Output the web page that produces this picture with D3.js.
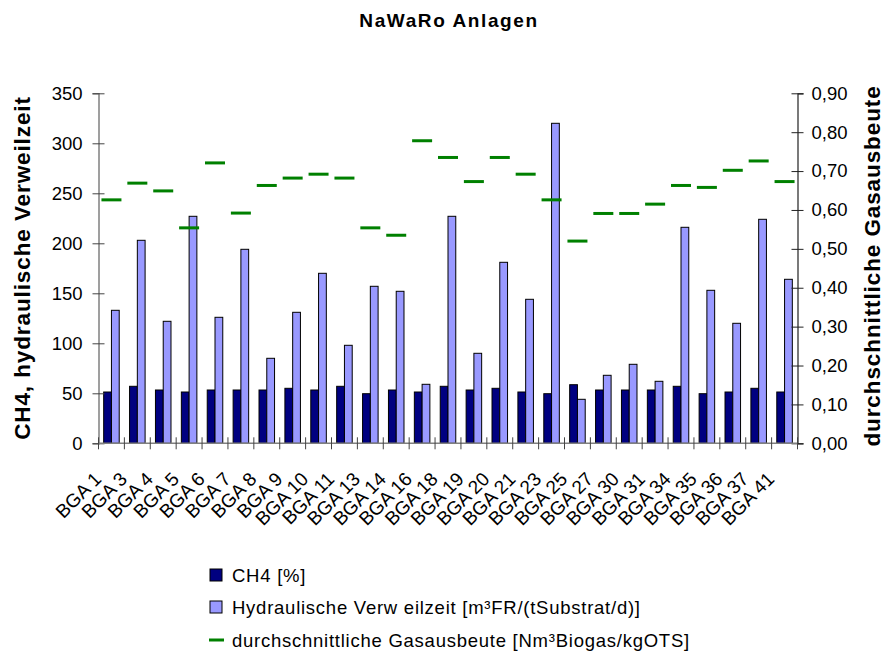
<!DOCTYPE html>
<html><head><meta charset="utf-8">
<script src="https://cdn.jsdelivr.net/npm/d3@7"></script>
<style>body{margin:0;background:#fff}svg{display:block;font-family:"Liberation Sans",Arial,sans-serif}</style>
</head><body>
<svg id="c" width="890" height="657"></svg>
<script>
const categories = ["BGA 1","BGA 3","BGA 4","BGA 5","BGA 6","BGA 7","BGA 8","BGA 9","BGA 10","BGA 11","BGA 13","BGA 14","BGA 16","BGA 18","BGA 19","BGA 20","BGA 21","BGA 23","BGA 25","BGA 27","BGA 30","BGA 31","BGA 34","BGA 35","BGA 36","BGA 37","BGA 41"];
const ch4 = [51.3,57,53.3,51.3,53.3,53.3,53.3,55,53.3,57,49.6,53.3,51.3,57,53.3,55,51.3,49.6,58.6,53.3,53.3,53.3,57,49.6,51.3,55,51.3];
const hydraulic = [133,203,122,227,126,194,85,131,170,98,157,152,59,227,90,181,144,320,44,68,79,62,216,153,120,224,164];
const gasYield = [0.626,0.669,0.649,0.554,0.721,0.592,0.663,0.682,0.692,0.682,0.554,0.535,0.778,0.735,0.673,0.735,0.692,0.626,0.520,0.591,0.591,0.615,0.663,0.658,0.702,0.726,0.673];
const leftTicks = [0,50,100,150,200,250,300,350];
const rightTicks = [0,0.1,0.2,0.3,0.4,0.5,0.6,0.7,0.8,0.9];
const seriesNames = ["CH4 [%]","Hydraulische Verw eilzeit [m³FR/(tSubstrat/d)]","durchschnittliche Gasausbeute [Nm³Biogas/kgOTS]"];

const svg = d3.select("#c");
const L = 98.5, R = 797.5, T = 93.3, B = 443.3;
const x = d3.scaleBand().domain(categories).range([L, R]).padding(0);
const yL = d3.scaleLinear().domain([0,350]).range([B, T]);
const yR = d3.scaleLinear().domain([0,0.9]).range([B, T]);
const bw = x.bandwidth()*0.3;

// title
svg.append("text").attr("x",449).attr("y",27).attr("text-anchor","middle")
  .attr("font-weight","bold").attr("font-size",19).attr("letter-spacing",1.6).text("NaWaRo Anlagen");

// bars
const g = svg.append("g");
categories.forEach((c,i)=>{
  const cx = x(c)+x.bandwidth()/2;
  g.append("rect").attr("x",cx-bw).attr("y",yL(ch4[i])).attr("width",bw).attr("height",yL(0)-yL(ch4[i]))
    .attr("fill","#000080").attr("stroke","#000").attr("stroke-width",1);
  g.append("rect").attr("x",cx).attr("y",yL(hydraulic[i])).attr("width",bw).attr("height",yL(0)-yL(hydraulic[i]))
    .attr("fill","#9999FF").attr("stroke","#000").attr("stroke-width",1);
});
// gas yield markers
categories.forEach((c,i)=>{
  const cx = x(c)+x.bandwidth()/2;
  g.append("line").attr("x1",cx-10).attr("x2",cx+10).attr("y1",yR(gasYield[i])).attr("y2",yR(gasYield[i]))
    .attr("stroke","#008000").attr("stroke-width",3);
});

// left axis
const la = svg.append("g").attr("transform",`translate(${L},0)`)
  .call(d3.axisLeft(yL).tickValues(leftTicks).tickSize(6).tickPadding(12));
la.select(".domain").attr("stroke","#808080").attr("stroke-width",1.5);
la.selectAll(".tick line").attr("x2",6).attr("x1",-6).attr("stroke","#444");
la.selectAll(".tick text").attr("font-size",18.5).attr("font-family","Liberation Sans, Arial, sans-serif").attr("fill","#000").attr("x",-16);

// right axis
const fmt = d => d.toFixed(2).replace(".",",");
const ra = svg.append("g").attr("transform",`translate(${R},0)`)
  .call(d3.axisRight(yR).tickValues(rightTicks).tickFormat(fmt).tickSize(6));
ra.select(".domain").attr("stroke","#222").attr("stroke-width",1.2);
ra.selectAll(".tick line").attr("x1",-6).attr("x2",6).attr("stroke","#222");
ra.selectAll(".tick text").attr("font-size",18.5).attr("font-family","Liberation Sans, Arial, sans-serif").attr("fill","#000").attr("x",14);

// x axis
const xa = svg.append("g").attr("transform",`translate(0,${B})`);
xa.append("line").attr("x1",L).attr("x2",R).attr("stroke","#808080").attr("stroke-width",1.5);
const bounds = categories.map(c=>x(c)).concat([R]);
xa.selectAll("line.t").data(bounds).join("line").attr("class","t")
  .attr("x1",d=>d).attr("x2",d=>d).attr("y1",-6).attr("y2",6).attr("stroke","#444");
xa.selectAll("text").data(categories).join("text")
  .attr("transform",c=>`translate(${x(c)+x.bandwidth()/2-9},37) rotate(-45)`)
  .attr("text-anchor","end").attr("font-size",19).text(c=>c);

// axis titles
svg.append("text").attr("transform","translate(30,268) rotate(-90)").attr("text-anchor","middle")
  .attr("font-weight","bold").attr("font-size",22.5).attr("letter-spacing",0.9).text("CH4, hydraulische Verweilzeit");
svg.append("text").attr("transform","translate(880,266) rotate(-90)").attr("text-anchor","middle")
  .attr("font-weight","bold").attr("font-size",22.5).attr("letter-spacing",0.9).text("durchschnittliche Gasausbeute");

// legend
const lg = svg.append("g");
const ly = [575, 607, 640];
lg.append("rect").attr("x",210).attr("y",ly[0]-6).attr("width",12).attr("height",12).attr("fill","#000080").attr("stroke","#000");
lg.append("rect").attr("x",210).attr("y",ly[1]-6).attr("width",12).attr("height",12).attr("fill","#9999FF").attr("stroke","#000");
lg.append("line").attr("x1",209).attr("x2",224).attr("y1",ly[2]).attr("y2",ly[2]).attr("stroke","#008000").attr("stroke-width",3);
seriesNames.forEach((s,i)=>{
  lg.append("text").attr("x",232).attr("y",ly[i]+7).attr("font-size",18.5).attr("letter-spacing",0.75).text(s);
});
</script>
</body></html>
